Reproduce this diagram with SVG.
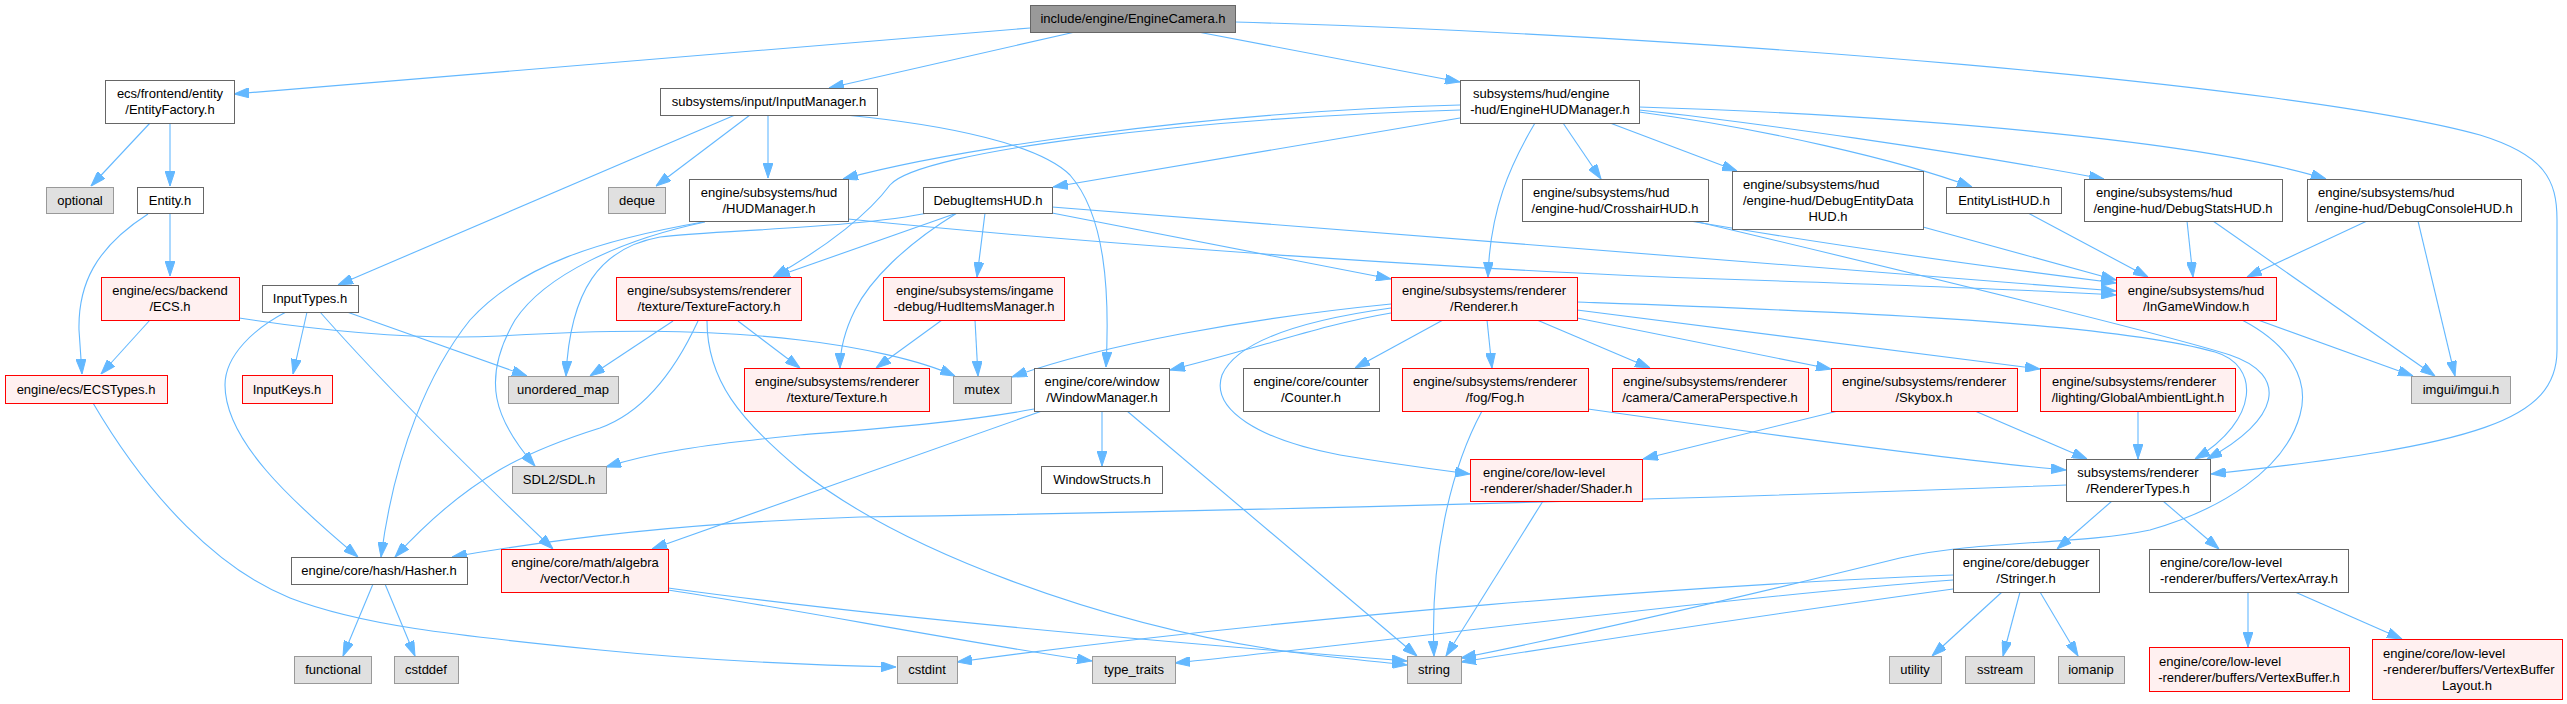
<svg xmlns="http://www.w3.org/2000/svg" width="2567" height="704" viewBox="0 0 2567 704">
<style>
rect{stroke-width:1}
.n{fill:#ffffff;stroke:#666666}
.r{fill:#fff0f0;stroke:#ff0000}
.l{fill:#e0e0e0;stroke:#999999}
.root{fill:#999999;stroke:#666666}
text{font-family:"Liberation Sans",Arial,sans-serif;font-size:13px;fill:#000}
.m{text-anchor:middle}
.edges path{fill:none;stroke:#63b8ff;stroke-width:1.1;marker-end:url(#a)}
</style>
<defs>
<marker id="a" viewBox="0 0 15 10" refX="15" refY="5" markerWidth="15" markerHeight="10" orient="auto" markerUnits="userSpaceOnUse"><path d="M0,0 L15,5 L0,10 z" fill="#63b8ff" stroke="#63b8ff"/></marker>
</defs>
<rect width="2567" height="704" fill="#ffffff"/>
<g id="edges" class="edges">
<path d="M1030,28 L234,94"/>
<path d="M1075,32 L829,88"/>
<path d="M1198,32 L1460,82"/>
<path d="M1235,22 C1700,35 2300,85 2480,135 C2545,155 2557,180 2557,220 L2557,350 C2557,420 2480,445 2211,474"/>
<path d="M150,123 L91,186"/>
<path d="M170,123 L170,186"/>
<path d="M170,213 L170,276"/>
<path d="M148,214 C95,248 78,285 79,330 L82,374"/>
<path d="M150,320 L101,374"/>
<path d="M239,318 C330,332 420,340 500,336 C600,330 700,328 800,340 C860,347 920,360 955,376"/>
<path d="M93,403 C150,500 220,570 290,598 C360,625 450,635 600,650 C700,660 800,665 896,667"/>
<path d="M735,115 L338,285"/>
<path d="M750,115 L656,186"/>
<path d="M768,115 L768,178"/>
<path d="M845,115 C950,125 1040,145 1070,175 C1105,215 1110,290 1106,367"/>
<path d="M307,312 L293,374"/>
<path d="M286,312 C255,328 225,355 225,385 C225,440 290,500 358,557"/>
<path d="M320,312 C380,380 470,470 553,549"/>
<path d="M347,312 L527,376"/>
<path d="M703,222 C600,240 520,265 470,320 C430,370 395,450 381,557"/>
<path d="M705,222 C620,240 545,275 515,320 C480,380 495,420 535,466"/>
<path d="M848,219 C1100,245 1500,272 1720,279 C1900,285 2050,291 2116,295"/>
<path d="M1460,105 C1200,112 950,150 843,179"/>
<path d="M1460,110 C1200,118 920,150 890,185 C870,212 830,245 773,277"/>
<path d="M1460,118 L1053,187"/>
<path d="M1535,123 C1510,165 1490,210 1488,277"/>
<path d="M1563,123 L1601,179"/>
<path d="M1610,123 L1737,171"/>
<path d="M1639,112 C1760,128 1900,160 1972,187"/>
<path d="M1639,110 C1750,122 1950,150 2104,179"/>
<path d="M1639,107 C1900,115 2200,140 2326,179"/>
<path d="M985,213 L977,277"/>
<path d="M957,213 L775,277"/>
<path d="M932,212 C860,228 720,230 660,237 C600,248 570,290 566,376"/>
<path d="M957,213 C905,245 870,280 855,310 C845,330 840,350 840,368"/>
<path d="M1052,213 L1391,279"/>
<path d="M1052,207 C1300,226 1700,256 2116,291"/>
<path d="M1690,221 C1800,240 1950,262 2116,283"/>
<path d="M1694,221 C1900,270 2150,330 2230,355 C2290,375 2280,420 2207,459"/>
<path d="M1577,302 C1800,310 2100,320 2215,352 C2260,365 2260,420 2195,459"/>
<path d="M1577,310 L2040,369"/>
<path d="M1577,318 L1831,369"/>
<path d="M1537,320 L1650,368"/>
<path d="M1487,320 L1492,368"/>
<path d="M1443,320 L1355,368"/>
<path d="M1391,304 C1250,318 1100,345 1012,377"/>
<path d="M1391,313 C1320,325 1260,348 1170,370"/>
<path d="M1391,308 C1290,322 1235,345 1222,375 C1210,410 1260,440 1340,455 C1400,465 1440,470 1470,474"/>
<path d="M1482,411 C1450,470 1430,560 1434,656"/>
<path d="M1588,409 C1750,432 1950,460 2066,470"/>
<path d="M1838,411 L1643,459"/>
<path d="M1975,411 L2087,459"/>
<path d="M2138,411 L2138,459"/>
<path d="M1543,501 L1446,656"/>
<path d="M1127,411 L1417,656"/>
<path d="M1102,411 L1102,466"/>
<path d="M1034,409 C960,423 860,430 800,435 C700,445 650,453 606,467"/>
<path d="M1042,411 L652,549"/>
<path d="M698,321 C680,360 650,410 600,428 C530,450 470,475 395,557"/>
<path d="M707,321 C707,380 740,420 800,470 C900,550 1100,625 1290,652 C1340,658 1380,662 1407,665"/>
<path d="M673,321 L590,376"/>
<path d="M738,321 L800,368"/>
<path d="M942,320 L876,368"/>
<path d="M975,320 L978,376"/>
<path d="M668,590 C800,610 950,640 1092,661"/>
<path d="M668,588 C900,620 1200,645 1407,661"/>
<path d="M373,584 L343,656"/>
<path d="M385,584 L415,656"/>
<path d="M2066,485 C1700,499 1200,512 860,517 C700,522 560,538 452,557"/>
<path d="M2112,501 L2057,549"/>
<path d="M2163,501 L2219,549"/>
<path d="M2248,592 L2248,647"/>
<path d="M2295,592 L2402,639"/>
<path d="M2002,592 L1932,656"/>
<path d="M2020,592 L2003,656"/>
<path d="M2040,592 L2078,656"/>
<path d="M1953,589 C1800,610 1600,640 1461,662"/>
<path d="M1953,575 C1700,585 1300,615 957,662"/>
<path d="M1953,580 C1700,600 1400,640 1175,663"/>
<path d="M2242,320 C2290,345 2310,380 2300,415 C2285,470 2220,510 2150,530 C2080,545 1980,540 1900,558 C1750,595 1600,630 1461,658"/>
<path d="M2258,320 L2413,376"/>
<path d="M2213,221 L2435,376"/>
<path d="M2418,221 L2455,376"/>
<path d="M2187,221 L2193,277"/>
<path d="M2367,221 L2247,277"/>
<path d="M2028,213 L2148,277"/>
<path d="M1923,227 L2116,280"/>
</g>
<g id="n1"><rect class="root" x="1030.5" y="5.5" width="205" height="27"/><text class="m" x="1133" y="23">include/engine/EngineCamera.h</text></g>
<g id="n2"><rect class="n" x="105.5" y="80.5" width="129" height="43"/><text class="m" x="170" y="98">ecs/frontend/entity</text><text class="m" x="170" y="114">/EntityFactory.h</text></g>
<g id="n3"><rect class="n" x="660.5" y="88.5" width="217" height="27"/><text class="m" x="769" y="106">subsystems/input/InputManager.h</text></g>
<g id="n4"><rect class="n" x="1460.5" y="80.5" width="179" height="43"/><text x="1473" y="98">subsystems/hud/engine</text><text class="m" x="1550" y="114">-hud/EngineHUDManager.h</text></g>
<g id="n5"><rect class="l" x="46.5" y="187.5" width="67" height="26"/><text class="m" x="80" y="205">optional</text></g>
<g id="n6"><rect class="n" x="137.5" y="187.5" width="66" height="26"/><text class="m" x="170" y="205">Entity.h</text></g>
<g id="n7"><rect class="l" x="608.5" y="187.5" width="57" height="26"/><text class="m" x="637" y="205">deque</text></g>
<g id="n8"><rect class="n" x="689.5" y="179.5" width="159" height="42"/><text class="m" x="769" y="197">engine/subsystems/hud</text><text class="m" x="769" y="213">/HUDManager.h</text></g>
<g id="n9"><rect class="n" x="923.5" y="187.5" width="129" height="26"/><text class="m" x="988" y="205">DebugItemsHUD.h</text></g>
<g id="n10"><rect class="n" x="1522.5" y="179.5" width="186" height="42"/><text x="1533" y="197">engine/subsystems/hud</text><text class="m" x="1615" y="213">/engine-hud/CrosshairHUD.h</text></g>
<g id="n11"><rect class="n" x="1732.5" y="171.5" width="191" height="58"/><text x="1743" y="189">engine/subsystems/hud</text><text x="1743" y="205">/engine-hud/DebugEntityData</text><text class="m" x="1828" y="221">HUD.h</text></g>
<g id="n12"><rect class="n" x="1946.5" y="187.5" width="115" height="26"/><text class="m" x="2004" y="205">EntityListHUD.h</text></g>
<g id="n13"><rect class="n" x="2084.5" y="179.5" width="198" height="42"/><text x="2096" y="197">engine/subsystems/hud</text><text class="m" x="2183" y="213">/engine-hud/DebugStatsHUD.h</text></g>
<g id="n14"><rect class="n" x="2307.5" y="179.5" width="214" height="42"/><text x="2318" y="197">engine/subsystems/hud</text><text class="m" x="2414" y="213">/engine-hud/DebugConsoleHUD.h</text></g>
<g id="n15"><rect class="r" x="101.5" y="277.5" width="138" height="43"/><text class="m" x="170" y="295">engine/ecs/backend</text><text class="m" x="170" y="311">/ECS.h</text></g>
<g id="n16"><rect class="n" x="262.5" y="285.5" width="96" height="27"/><text class="m" x="310" y="303">InputTypes.h</text></g>
<g id="n17"><rect class="r" x="616.5" y="277.5" width="185" height="43"/><text class="m" x="709" y="295">engine/subsystems/renderer</text><text class="m" x="709" y="311">/texture/TextureFactory.h</text></g>
<g id="n18"><rect class="r" x="883.5" y="277.5" width="181" height="43"/><text x="896" y="295">engine/subsystems/ingame</text><text class="m" x="974" y="311">-debug/HudItemsManager.h</text></g>
<g id="n19"><rect class="r" x="1391.5" y="277.5" width="186" height="43"/><text class="m" x="1484" y="295">engine/subsystems/renderer</text><text class="m" x="1484" y="311">/Renderer.h</text></g>
<g id="n20"><rect class="r" x="2116.5" y="277.5" width="160" height="43"/><text class="m" x="2196" y="295">engine/subsystems/hud</text><text class="m" x="2196" y="311">/InGameWindow.h</text></g>
<g id="n21"><rect class="r" x="5.5" y="375.5" width="162" height="28"/><text class="m" x="86" y="394">engine/ecs/ECSTypes.h</text></g>
<g id="n22"><rect class="r" x="242.5" y="375.5" width="90" height="28"/><text class="m" x="287" y="394">InputKeys.h</text></g>
<g id="n23"><rect class="l" x="508.5" y="376.5" width="110" height="27"/><text class="m" x="563" y="394">unordered_map</text></g>
<g id="n24"><rect class="r" x="744.5" y="368.5" width="185" height="43"/><text class="m" x="837" y="386">engine/subsystems/renderer</text><text class="m" x="837" y="402">/texture/Texture.h</text></g>
<g id="n25"><rect class="l" x="953.5" y="376.5" width="58" height="27"/><text class="m" x="982" y="394">mutex</text></g>
<g id="n26"><rect class="n" x="1034.5" y="368.5" width="135" height="43"/><text class="m" x="1102" y="386">engine/core/window</text><text class="m" x="1102" y="402">/WindowManager.h</text></g>
<g id="n27"><rect class="n" x="1243.5" y="368.5" width="136" height="43"/><text class="m" x="1311" y="386">engine/core/counter</text><text class="m" x="1311" y="402">/Counter.h</text></g>
<g id="n28"><rect class="r" x="1402.5" y="368.5" width="186" height="43"/><text class="m" x="1495" y="386">engine/subsystems/renderer</text><text class="m" x="1495" y="402">/fog/Fog.h</text></g>
<g id="n29"><rect class="r" x="1612.5" y="368.5" width="196" height="43"/><text x="1623" y="386">engine/subsystems/renderer</text><text class="m" x="1710" y="402">/camera/CameraPerspective.h</text></g>
<g id="n30"><rect class="r" x="1831.5" y="368.5" width="186" height="43"/><text class="m" x="1924" y="386">engine/subsystems/renderer</text><text class="m" x="1924" y="402">/Skybox.h</text></g>
<g id="n31"><rect class="r" x="2040.5" y="368.5" width="195" height="43"/><text x="2052" y="386">engine/subsystems/renderer</text><text class="m" x="2138" y="402">/lighting/GlobalAmbientLight.h</text></g>
<g id="n32"><rect class="l" x="2411.5" y="376.5" width="99" height="27"/><text class="m" x="2461" y="394">imgui/imgui.h</text></g>
<g id="n33"><rect class="l" x="512.5" y="466.5" width="94" height="27"/><text class="m" x="559" y="484">SDL2/SDL.h</text></g>
<g id="n34"><rect class="n" x="1041.5" y="466.5" width="121" height="27"/><text class="m" x="1102" y="484">WindowStructs.h</text></g>
<g id="n35"><rect class="r" x="1470.5" y="459.5" width="172" height="42"/><text x="1483" y="477">engine/core/low-level</text><text class="m" x="1556" y="493">-renderer/shader/Shader.h</text></g>
<g id="n36"><rect class="n" x="2066.5" y="459.5" width="144" height="42"/><text class="m" x="2138" y="477">subsystems/renderer</text><text class="m" x="2138" y="493">/RendererTypes.h</text></g>
<g id="n37"><rect class="n" x="291.5" y="557.5" width="176" height="27"/><text class="m" x="379" y="575">engine/core/hash/Hasher.h</text></g>
<g id="n38"><rect class="r" x="501.5" y="549.5" width="167" height="43"/><text class="m" x="585" y="567">engine/core/math/algebra</text><text class="m" x="585" y="583">/vector/Vector.h</text></g>
<g id="n39"><rect class="n" x="1953.5" y="549.5" width="146" height="43"/><text class="m" x="2026" y="567">engine/core/debugger</text><text class="m" x="2026" y="583">/Stringer.h</text></g>
<g id="n40"><rect class="n" x="2149.5" y="549.5" width="199" height="43"/><text x="2160" y="567">engine/core/low-level</text><text class="m" x="2249" y="583">-renderer/buffers/VertexArray.h</text></g>
<g id="n41"><rect class="l" x="294.5" y="656.5" width="77" height="27"/><text class="m" x="333" y="674">functional</text></g>
<g id="n42"><rect class="l" x="394.5" y="656.5" width="64" height="27"/><text class="m" x="426" y="674">cstddef</text></g>
<g id="n43"><rect class="l" x="897.5" y="656.5" width="60" height="27"/><text class="m" x="927" y="674">cstdint</text></g>
<g id="n44"><rect class="l" x="1092.5" y="656.5" width="83" height="27"/><text class="m" x="1134" y="674">type_traits</text></g>
<g id="n45"><rect class="l" x="1407.5" y="656.5" width="54" height="27"/><text class="m" x="1434" y="674">string</text></g>
<g id="n46"><rect class="l" x="1889.5" y="656.5" width="52" height="27"/><text class="m" x="1915" y="674">utility</text></g>
<g id="n47"><rect class="l" x="1965.5" y="656.5" width="69" height="27"/><text class="m" x="2000" y="674">sstream</text></g>
<g id="n48"><rect class="l" x="2058.5" y="656.5" width="66" height="27"/><text class="m" x="2091" y="674">iomanip</text></g>
<g id="n49"><rect class="r" x="2149.5" y="647.5" width="200" height="44"/><text x="2159" y="666">engine/core/low-level</text><text class="m" x="2249" y="682">-renderer/buffers/VertexBuffer.h</text></g>
<g id="n50"><rect class="r" x="2372.5" y="639.5" width="190" height="60"/><text x="2383" y="658">engine/core/low-level</text><text x="2383" y="674">-renderer/buffers/VertexBuffer</text><text class="m" x="2467" y="690">Layout.h</text></g>
</svg>
